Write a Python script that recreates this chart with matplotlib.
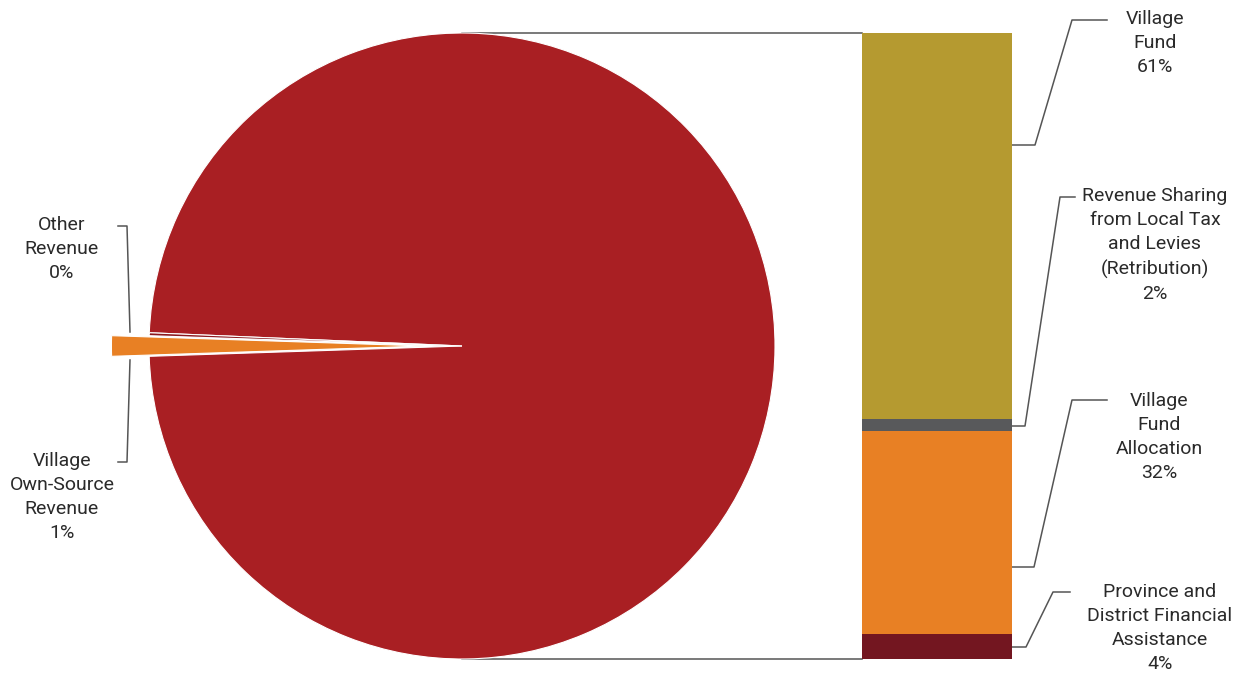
import matplotlib
matplotlib.use('Agg')
import matplotlib.pyplot as plt

plt.rcParams['font.family'] = ['Roboto', 'DejaVu Sans']

# village revenue by source (pie) and breakdown of transfers (stacked bar)
pie_labels = ['Revenue from\nTransfers\n99%', 'Other\nRevenue\n0%', 'Village\nOwn-Source\nRevenue\n1%']
pie_values = [98.8, 0.15, 1.05]
pie_colors = ['#A91F23', '#8B1A1F', '#E88024']

bar_labels = ['Province and\nDistrict Financial\nAssistance\n4%',
              'Village\nFund\nAllocation\n32%',
              'Revenue Sharing\nfrom Local Tax\nand Levies\n(Retribution)\n2%',
              'Village\nFund\n61%']
bar_values = [4, 32, 2, 61]
bar_colors = ['#731620', '#E88024', '#58595B', '#B59A30']

W, H = 1244, 675
fig = plt.figure(figsize=(W / 100, H / 100), dpi=100)

# overlay in pixel coordinates for leader lines and labels
ov = fig.add_axes([0, 0, 1, 1])
ov.set_xlim(0, W)
ov.set_ylim(H, 0)
ov.axis('off')

cx, cy, r = 462, 346, 313
pax = fig.add_axes([(cx - r) / W, (H - cy - r) / H, 2 * r / W, 2 * r / H])
total = sum(pie_values)
start = 180 - 360 * (pie_values[0] + pie_values[1] + pie_values[2] / 2) / total
pax.pie(pie_values, colors=pie_colors, startangle=start, counterclock=True,
        explode=[0, 0.0, 0.12], radius=1,
        wedgeprops=dict(edgecolor='white', linewidth=0.8))
pax.set_xlim(-1, 1)
pax.set_ylim(-1, 1)
pax.set_aspect('auto')
pax.axis('off')

bx0, bx1, by0, by1 = 862, 1012, 33, 659
bax = fig.add_axes([bx0 / W, (H - by1) / H, (bx1 - bx0) / W, (by1 - by0) / H])
bottom = 0
for v, c in zip(bar_values, bar_colors):
    bax.bar(0, v, bottom=bottom, width=1, color=c, linewidth=0)
    bottom += v
bax.set_xlim(-0.5, 0.5)
bax.set_ylim(0, sum(bar_values))
bax.axis('off')

line_kw = dict(color='#555555', linewidth=1.1)
# connectors from pie to bar
ov.plot([cx, bx0], [by0, by0], **line_kw)
ov.plot([cx, bx0], [by1, by1], **line_kw)

fs = 14
ls = 1.42
ov.text(582, 340, pie_labels[0], color='white', ha='center', va='center',
        fontsize=fs, linespacing=ls)

# left labels
ov.plot([118, 127, 130], [226, 226, 332], **line_kw)
ov.text(62, 249, pie_labels[1], ha='center', va='center', fontsize=fs,
        color='#2a2a2a', linespacing=ls)
ov.plot([118, 127, 130], [462, 462, 360], **line_kw)
ov.text(62, 497, pie_labels[2], ha='center', va='center', fontsize=fs,
        color='#2a2a2a', linespacing=ls)

# right labels with leaders
leaders = [
    ([1012, 1026, 1053, 1070], [647, 647, 592, 592], (1160, 628)),
    ([1012, 1034, 1072, 1107], [567, 567, 400, 400], (1159, 437)),
    ([1012, 1025, 1060, 1075], [426, 426, 197, 197], (1155, 245)),
    ([1012, 1035, 1072, 1107], [145, 145, 20, 20], (1155, 43)),
]
for lab, (xs, ys, (tx, ty)) in zip(bar_labels, leaders):
    ov.plot(xs, ys, **line_kw)
    ov.text(tx, ty, lab, ha='center', va='center', fontsize=fs,
            color='#2a2a2a', linespacing=ls)

fig.savefig('out.png', dpi=100)
